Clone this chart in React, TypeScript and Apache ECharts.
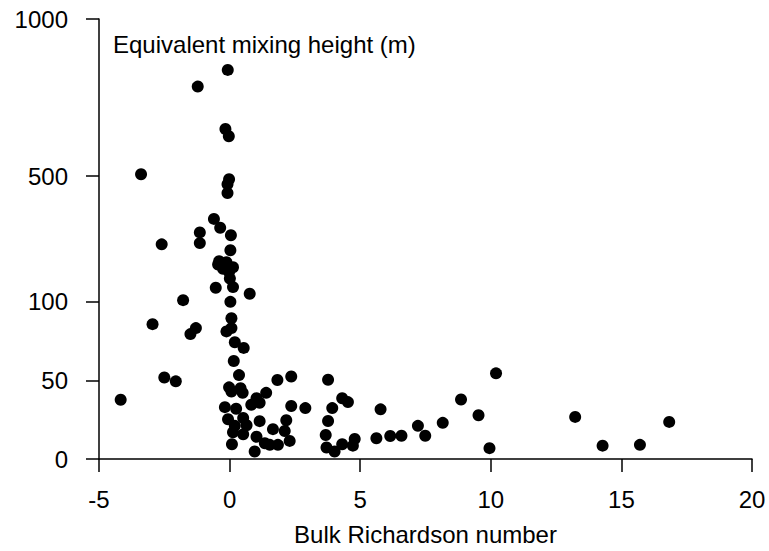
import React, { useEffect, useRef } from "react";
import * as echarts from "echarts";

// Bulk Richardson number (x) and equivalent mixing height in m (y)
const richardson: number[] = [
  -0.07, -1.22, -0.16, -0.03, -0.02, -0.08, -0.08, -0.6, -0.36, 0.05,
  -1.14, -1.14, 0.03, -0.4, -0.44, -0.12, 0.13, -0.25, -0.02, 0.01,
  0.13, -0.53, 0.77, 0.03, 0.07, -0.12, 0.07, -1.29, -1.5, 0.2,
  0.54, 0.16, -3.39, -2.6, -1.78, -2.95, -2.5, -2.06, -4.17, 0.36,
  -0.02, 0.42, 0.5, 0.07, 1.83, 2.36, 1.4, 1.03, 0.83, 1.15,
  -0.18, 0.25, 2.36, 2.9, -0.06, 0.52, 1.15, 0.2, 0.65, 2.17,
  1.66, 2.11, 0.13, 0.52, 1.03, 1.35, 1.85, 2.3, 0.09, 0.96,
  1.54, 3.77, 4.31, 4.53, 3.93, 3.77, 3.68, 3.71, 4.02, 4.31,
  4.79, 4.72, 5.78, 5.62, 6.15, 6.58, 7.21, 7.49, 8.16, 8.86,
  9.53, 9.95, 10.2, 13.23, 14.28, 15.71, 16.83,
];
const mixingHeight: number[] = [
  838, 785, 650, 627, 490, 474, 446, 364, 336, 312,
  321, 287, 264, 229, 219, 226, 210, 205, 195, 174,
  147, 145, 126, 100, 89.6, 81.2, 83.3, 83.3, 79.5, 74.3,
  70.7, 62.4, 506, 283, 105.5, 85.8, 51.9, 49.4, 37.7, 53.4,
  45.6, 45, 42.1, 42.9, 50.3, 52.5, 42.1, 38.7, 34.5, 35.8,
  33, 32, 33.7, 32.4, 25.3, 26.1, 24.1, 21.1, 21.5, 24.7,
  19, 17.8, 17, 15.7, 14.2, 10, 9, 11.5, 9.4, 4.8,
  9, 50.4, 38.7, 36.2, 32.4, 24.2, 15.3, 7.3, 4.8, 9.4,
  12.8, 8.5, 31.6, 13.2, 14.6, 14.8, 21.1, 14.8, 23, 37.9,
  27.8, 6.9, 54.5, 26.8, 8.5, 9, 23.6,
];
const yTickLabels: number[] = [0, 50, 100, 500, 1000];
const xTickMin = -5;
const xTickMax = 20;
const xTickStep = 5;

// Broken y scale: linear up to 100, compressed 5x above
const BREAK = 100;
const COMPRESS = 5;
const toAxis = (v: number) => (v <= BREAK ? v : BREAK + (v - BREAK) / COMPRESS);
const fromAxis = (t: number) => (t <= BREAK ? t : BREAK + (t - BREAK) * COMPRESS);

const FONT = "'Liberation Sans', Arial, sans-serif";

export default function App() {
  const ref = useRef<HTMLDivElement>(null);
  useEffect(() => {
    if (!ref.current) return;
    const chart = echarts.init(ref.current, null, { renderer: "svg" });
    const data = richardson.map((x, i) => [x, toAxis(mixingHeight[i])]);
    const yCustom = yTickLabels.map(toAxis);
    chart.setOption({
      animation: false,
      backgroundColor: "#ffffff",
      title: {
        text: "Equivalent mixing height (m)",
        left: 113,
        top: 32,
        padding: 0,
        textStyle: { fontFamily: FONT, fontSize: 24, fontWeight: "normal", color: "#000" },
      },
      grid: { left: 99, right: 17, top: 19, bottom: 87, containLabel: false },
      xAxis: {
        type: "value",
        min: xTickMin,
        max: xTickMax,
        interval: xTickStep,
        name: "Bulk Richardson number",
        nameLocation: "middle",
        nameGap: 63,
        nameTextStyle: { fontFamily: FONT, fontSize: 24, color: "#000" },
        axisLine: { show: true, onZero: false, lineStyle: { color: "#000", width: 1.5 } },
        axisTick: { show: true, inside: false, length: 13, lineStyle: { color: "#000", width: 1.5 } },
        axisLabel: { margin: 28, fontFamily: FONT, fontSize: 24, color: "#000" },
        splitLine: { show: false },
      },
      yAxis: {
        type: "value",
        min: 0,
        max: toAxis(1000),
        axisLine: { show: true, onZero: false, lineStyle: { color: "#000", width: 1.5 } },
        axisTick: {
          show: true,
          inside: false,
          length: 13,
          customValues: yCustom,
          lineStyle: { color: "#000", width: 1.5 },
        },
        axisLabel: {
          margin: 31,
          fontFamily: FONT,
          fontSize: 24,
          color: "#000",
          customValues: yCustom,
          formatter: (v: number) => String(Math.round(fromAxis(v))),
        },
        splitLine: { show: false },
      },
      series: [
        {
          type: "scatter",
          data,
          symbol: "circle",
          symbolSize: 12,
          itemStyle: { color: "#000", opacity: 1 },
        },
      ],
    });
    return () => chart.dispose();
  }, []);
  return (
    <div
      ref={ref}
      style={{ position: "fixed", left: 0, top: 0, width: 769, height: 551 }}
    />
  );
}
